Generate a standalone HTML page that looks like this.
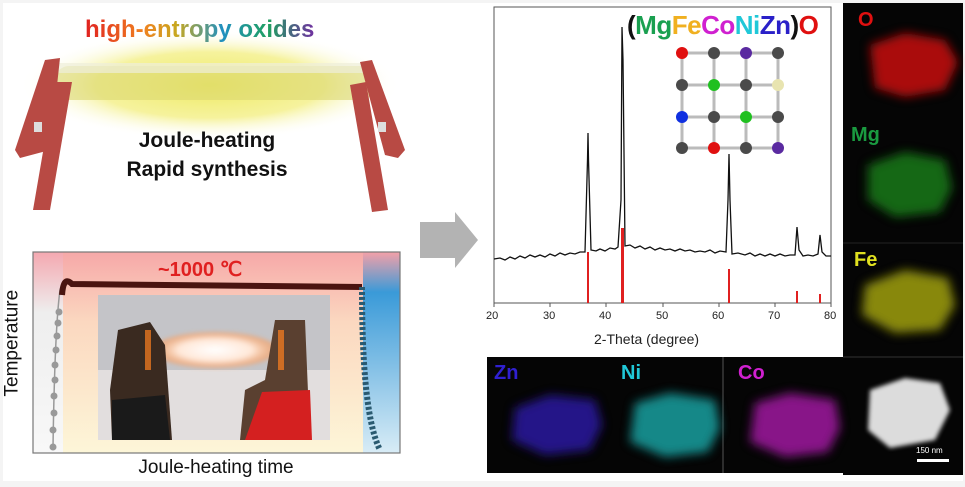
<!DOCTYPE html>
<html><head><style>
body{margin:0;width:965px;height:487px;background:#f4f4f4;overflow:hidden;font-family:"Liberation Sans",sans-serif;position:relative}
.a{position:absolute}
</style></head><body>
<div class="a" style="left:3px;top:3px;width:960px;height:478px;background:#fff"></div>
<svg class="a" style="left:0;top:0" width="965" height="487">
<defs>
<radialGradient id="glow" cx="50%" cy="50%" r="50%"><stop offset="0" stop-color="#eeea60"/><stop offset="0.6" stop-color="#f4f08c" stop-opacity="0.85"/><stop offset="1" stop-color="#fff" stop-opacity="0"/></radialGradient>
<linearGradient id="pk" x1="0" y1="0" x2="0" y2="1"><stop offset="0" stop-color="#f6a8a8"/><stop offset="0.35" stop-color="#fbd8c0"/><stop offset="1" stop-color="#fdf6d8"/></linearGradient>
<linearGradient id="bl" x1="0" y1="0" x2="0" y2="1"><stop offset="0" stop-color="#f4a0a8"/><stop offset="0.2" stop-color="#3a9ad8"/><stop offset="1" stop-color="#d8ecf6"/></linearGradient>
<linearGradient id="lg" x1="0" y1="0" x2="0" y2="1"><stop offset="0" stop-color="#f4a8b0"/><stop offset="0.3" stop-color="#eeeeee"/><stop offset="1" stop-color="#f8f8f8"/></linearGradient>
<radialGradient id="fl" cx="50%" cy="50%" r="50%"><stop offset="0" stop-color="#fff"/><stop offset="0.6" stop-color="#ffe8d8"/><stop offset="1" stop-color="#ff9040" stop-opacity="0.5"/></radialGradient>
<filter id="bz"><feGaussianBlur stdDeviation="5"/></filter>
<filter id="bz2"><feGaussianBlur stdDeviation="2"/></filter>
</defs>
<!-- top-left illustration -->
<ellipse cx="210" cy="85" rx="190" ry="55" fill="url(#glow)"/>
<rect x="55" y="66" width="320" height="34" rx="14" fill="#dad770" opacity="0.6"/>
<rect x="55" y="63" width="320" height="10" rx="5" fill="#eeeeda" opacity="0.7"/>
<g fill="#b84a44">
<path d="M45 60 L60 58 L50 150 L20 158 L15 150 Z"/>
<path d="M55 82 L72 82 L50 210 L33 210 Z"/>
<path d="M360 62 L372 60 L405 150 L398 158 L385 155 Z"/>
<path d="M350 85 L366 82 L388 210 L372 212 Z"/>
</g>
<rect x="34" y="122" width="8" height="10" fill="#ddd"/><rect x="378" y="122" width="8" height="10" fill="#ddd"/>
<!-- arrow -->
<polygon points="420,222 455,222 455,212 478,240 455,268 455,258 420,258" fill="#b3b3b3"/>
<!-- bottom-left panel -->
<rect x="33" y="252" width="330" height="201" fill="url(#pk)"/>
<rect x="33" y="252" width="30" height="201" fill="url(#lg)"/>
<rect x="363" y="252" width="37" height="201" fill="url(#bl)"/>
<rect x="33" y="252" width="367" height="201" fill="none" stroke="#777" stroke-width="1.2"/>
<path d="M53 447 C54 380 56 320 60 290 C62 283 64 280 70 283 L362 287" fill="none" stroke="#999" stroke-width="1.5"/>
<g fill="#999"><circle cx="53" cy="447" r="3.5"/><circle cx="53" cy="430" r="3.5"/><circle cx="54" cy="413" r="3.5"/><circle cx="54" cy="396" r="3.5"/><circle cx="55" cy="380" r="3.5"/><circle cx="55" cy="365" r="3.5"/><circle cx="56" cy="350" r="3.5"/><circle cx="57" cy="336" r="3.5"/><circle cx="58" cy="323" r="3.5"/><circle cx="59" cy="312" r="3.5"/></g>
<path d="M62 295 C63 282 66 278 72 284 L362 287" fill="none" stroke="#4a1410" stroke-width="6"/>
<path d="M362 287 C362 350 365 420 380 450" fill="none" stroke="#2a5a70" stroke-width="6" stroke-dasharray="3 2"/>
<rect x="98" y="295" width="232" height="145" fill="#c4c4c8"/>
<rect x="98" y="370" width="232" height="70" fill="#e2dede"/>
<ellipse cx="215" cy="350" rx="62" ry="18" fill="url(#fl)" filter="url(#bz2)"/>
<path d="M118 330 L150 322 L165 345 L172 440 L112 440 L110 390 Z" fill="#3a2a20"/>
<path d="M275 320 L305 320 L310 440 L240 440 L245 390 L265 380 Z" fill="#5a4030"/>
<path d="M262 392 L310 390 L312 440 L245 440 Z" fill="#d42020"/>
<path d="M112 400 L165 395 L170 440 L112 440 Z" fill="#1a1a1a"/>
<rect x="145" y="330" width="6" height="40" fill="#ff8020" opacity="0.7"/>
<rect x="278" y="330" width="6" height="40" fill="#ff8020" opacity="0.7"/>
<!-- XRD plot -->
<rect x="494" y="7" width="337" height="296" fill="#fff" stroke="#555" stroke-width="1"/>
<g stroke="#555" stroke-width="1">
<line x1="494" y1="303" x2="494" y2="307"/><line x1="550" y1="303" x2="550" y2="307"/><line x1="606" y1="303" x2="606" y2="307"/><line x1="663" y1="303" x2="663" y2="307"/><line x1="719" y1="303" x2="719" y2="307"/><line x1="775" y1="303" x2="775" y2="307"/><line x1="831" y1="303" x2="831" y2="307"/>
</g>
<g fill="#e02020">
<rect x="587" y="252" width="2" height="51"/><rect x="621" y="228" width="3" height="75"/><rect x="728" y="269" width="2" height="34"/><rect x="796" y="291" width="2" height="12"/><rect x="819" y="294" width="2" height="9"/>
</g>
<path d="M494 259 L500 258 L505 260 L510 257 L515 259 L520 256 L525 258 L530 255 L535 257 L540 255 L545 257 L550 254 L555 256 L560 253 L565 255 L570 253 L575 254 L580 252 L585 252 L587.5 160 L588 133 L588.5 160 L591 250 L596 251 L600 249 L605 251 L610 248 L615 249 L618 247 L621 200 L622 27 L623 60 L625 246 L630 245 L635 248 L640 246 L645 249 L650 247 L655 250 L660 248 L665 250 L670 249 L675 251 L680 249 L685 251 L690 250 L695 252 L700 251 L705 252 L710 250 L715 253 L720 251 L726 252 L728 200 L729 154 L730 200 L732 254 L738 253 L745 255 L750 253 L755 256 L760 254 L765 256 L770 254 L775 256 L780 254 L785 256 L790 255 L795 255 L797 227 L799 250 L803 256 L808 255 L813 256 L818 254 L820 235 L822 252 L826 256 L831 256" fill="none" stroke="#111" stroke-width="1.3"/>
<!-- crystal -->
<g stroke="#bbb" stroke-width="3">
<line x1="682" y1="53" x2="778" y2="53"/><line x1="682" y1="85" x2="778" y2="85"/><line x1="682" y1="117" x2="778" y2="117"/><line x1="682" y1="148" x2="778" y2="148"/>
<line x1="682" y1="53" x2="682" y2="148"/><line x1="714" y1="53" x2="714" y2="148"/><line x1="746" y1="53" x2="746" y2="148"/><line x1="778" y1="53" x2="778" y2="148"/>
</g>
<g fill="#4a4a4a">
<circle cx="714" cy="53" r="6"/><circle cx="778" cy="53" r="6"/><circle cx="682" cy="85" r="6"/><circle cx="746" cy="85" r="6"/><circle cx="714" cy="117" r="6"/><circle cx="778" cy="117" r="6"/><circle cx="682" cy="148" r="6"/><circle cx="746" cy="148" r="6"/>
</g>
<circle cx="682" cy="53" r="6" fill="#e01010"/><circle cx="746" cy="53" r="6" fill="#5a2aa0"/><circle cx="714" cy="85" r="6" fill="#20c020"/><circle cx="778" cy="85" r="6" fill="#e8e4b0"/><circle cx="682" cy="117" r="6" fill="#1030e0"/><circle cx="746" cy="117" r="6" fill="#20c020"/><circle cx="714" cy="148" r="6" fill="#e01010"/><circle cx="778" cy="148" r="6" fill="#5a2aa0"/>
<!-- dark panels -->
<rect x="843" y="3" width="120" height="472" fill="#050505"/>
<rect x="487" y="357" width="356" height="116" fill="#050505"/>
<line x1="723" y1="357" x2="723" y2="473" stroke="#555" stroke-width="1"/>
<line x1="843" y1="243" x2="963" y2="243" stroke="#222"/>
<line x1="843" y1="357" x2="963" y2="357" stroke="#333"/>
<g filter="url(#bz)">
<path d="M870 45 L905 33 L945 40 L958 62 L945 90 L905 97 L875 88 Z" fill="#c81010" opacity="0.85"/>
<path d="M868 165 L905 152 L945 160 L952 188 L940 212 L895 217 L868 200 Z" fill="#1a7a1a" opacity="0.85"/>
<path d="M865 285 L905 270 L948 278 L955 305 L940 330 L895 333 L862 315 Z" fill="#a0a010" opacity="0.85"/>
<path d="M515 408 L550 395 L595 400 L602 425 L590 450 L545 455 L512 440 Z" fill="#2a1aa0" opacity="0.85"/>
<path d="M635 403 L670 393 L715 400 L720 428 L708 452 L665 457 L630 442 Z" fill="#1aa0a0" opacity="0.85"/>
<path d="M755 403 L790 393 L835 400 L840 428 L828 452 L785 457 L750 442 Z" fill="#a01aa0" opacity="0.85"/>
</g>
<path d="M870 390 L905 378 L940 383 L950 410 L935 440 L890 448 L868 430 Z" fill="#dcdcdc" filter="url(#bz2)"/>
<rect x="917" y="459" width="32" height="3" fill="#fff"/>
</svg>
<div class="a" style="left:85px;top:16px;font-size:24px;font-weight:bold;background:linear-gradient(90deg,#e02020,#f08020 25%,#c8a820 40%,#2090c0 60%,#20a060 80%,#7030a0);-webkit-background-clip:text;color:transparent">high-entropy oxides</div>
<div class="a" style="left:100px;top:126px;width:214px;text-align:center;font-size:21px;font-weight:bold;line-height:29px;color:#111">Joule-heating<br>Rapid synthesis</div>
<div class="a" style="left:158px;top:257px;font-size:20px;font-weight:bold;color:#e02020">~1000 ℃</div>
<div class="a" style="left:-35px;top:338px;width:95px;text-align:center;transform:rotate(-90deg);font-size:19px;color:#111">Temperature</div>
<div class="a" style="left:100px;top:457px;width:232px;text-align:center;font-size:19px;color:#111">Joule-heating time</div>
<div class="a" style="left:627px;top:10px;font-size:26px;font-weight:bold;letter-spacing:-0.5px"><span style="color:#111">(</span><span style="color:#1aa050">Mg</span><span style="color:#f0b020">Fe</span><span style="color:#d020d0">Co</span><span style="color:#20c8d8">Ni</span><span style="color:#2a20c8">Zn</span><span style="color:#111">)</span><span style="color:#e01010">O</span></div>
<div class="a" style="top:310px;left:0;font-size:11px;color:#222">
<span class="a" style="left:486px">20</span><span class="a" style="left:543px">30</span><span class="a" style="left:599px">40</span><span class="a" style="left:656px">50</span><span class="a" style="left:712px">60</span><span class="a" style="left:768px">70</span><span class="a" style="left:824px">80</span></div>
<div class="a" style="left:594px;top:331px;font-size:14px;color:#222">2-Theta (degree)</div>
<div class="a" style="left:858px;top:9px;font-size:20px;font-weight:bold;color:#e01010">O</div>
<div class="a" style="left:851px;top:124px;font-size:20px;font-weight:bold;color:#1a9a40">Mg</div>
<div class="a" style="left:854px;top:249px;font-size:20px;font-weight:bold;color:#e0e020">Fe</div>
<div class="a" style="left:494px;top:362px;font-size:20px;font-weight:bold;color:#3020d0">Zn</div>
<div class="a" style="left:621px;top:362px;font-size:20px;font-weight:bold;color:#20c8d8">Ni</div>
<div class="a" style="left:738px;top:362px;font-size:20px;font-weight:bold;color:#d020d0">Co</div>
<div class="a" style="left:916px;top:446px;font-size:8px;color:#fff">150 nm</div>
</body></html>
